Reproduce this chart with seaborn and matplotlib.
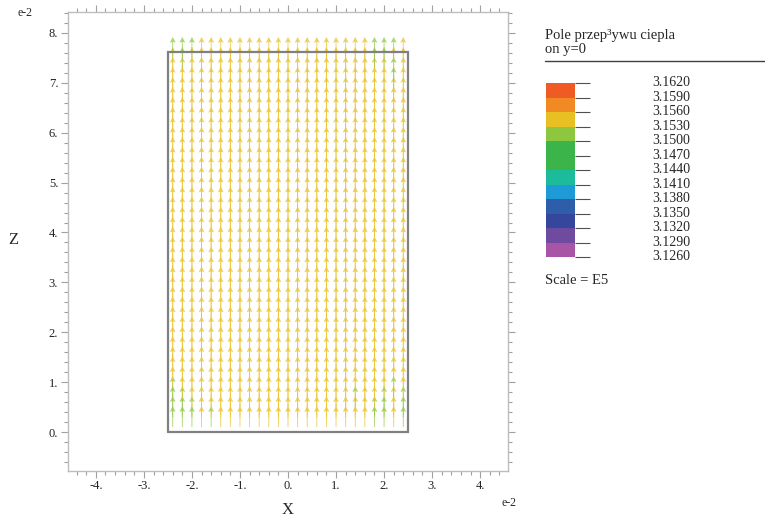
import numpy as np
import matplotlib
matplotlib.use("Agg")
import matplotlib.pyplot as plt
from matplotlib.colors import ListedColormap, BoundaryNorm
from matplotlib.ticker import MultipleLocator, FuncFormatter
import seaborn as sns

sns.set_theme(style="ticks")
plt.rcParams["font.family"] = ["Liberation Serif", "DejaVu Serif"]

# ---------------- data ----------------
title_lines = ["Pole przep\u00b3ywu ciepla", "on y=0"]
scale_text = "Scale = E5"
x_label = "X"
z_label = "Z"

# legend levels (x 1e5) and band colours (bottom -> top)
levels = [3.1260, 3.1290, 3.1320, 3.1350, 3.1380, 3.1410, 3.1440,
          3.1470, 3.1500, 3.1530, 3.1560, 3.1590, 3.1620]
band_colors = ["#A855A5", "#6E4B9E", "#35479C", "#2E5EA9", "#1E9AD7",
               "#1BBB9C", "#3BB54A", "#3BB54A", "#8DC63F", "#E9C023",
               "#F28A24", "#F05A24"]

# domain outline (x 1e-2)
domain_x = [-2.5, 2.5]
domain_z = [0.0, 7.62]

# arrow grid (x 1e-2)
x_cols = [-2.4, -2.2, -2.0, -1.8, -1.6, -1.4, -1.2, -1.0, -0.8, -0.6, -0.4,
          -0.2, 0.0, 0.2, 0.4, 0.6, 0.8, 1.0, 1.2, 1.4, 1.6, 1.8, 2.0, 2.2, 2.4]
z_rows = [0.1, 0.3, 0.5, 0.7, 0.9, 1.1, 1.3, 1.5, 1.7, 1.9, 2.1, 2.3, 2.5,
          2.7, 2.9, 3.1, 3.3, 3.5, 3.7, 3.9, 4.1, 4.3, 4.5, 4.7, 4.9, 5.1,
          5.3, 5.5, 5.7, 5.9, 6.1, 6.3, 6.5, 6.7, 6.9, 7.1, 7.3, 7.5]
arrow_len = 0.42

Y = 3.1545  # yellow band
G = 3.1515  # light green band
flux_bottom = [  # rows z=0.1 .. 0.7
    [G, G, G, Y, G, Y, Y, Y, Y, Y, Y, Y, Y, Y, Y, Y, Y, Y, Y, Y, Y, G, G, Y, G],
    [G, G, G, Y, Y, Y, Y, Y, Y, Y, Y, Y, Y, Y, Y, Y, Y, Y, Y, Y, Y, G, G, Y, G],
    [G, G, Y, Y, Y, Y, Y, Y, Y, Y, Y, Y, Y, Y, Y, Y, Y, Y, Y, G, Y, Y, G, Y, G],
    [G, Y, Y, Y, Y, Y, Y, Y, Y, Y, Y, Y, Y, Y, Y, Y, Y, Y, Y, Y, Y, Y, Y, G, Y],
]
flux_body = [Y, Y, Y, Y, Y, Y, Y, Y, Y, Y, Y, Y, Y, Y, Y, Y, Y, Y, Y, Y, Y, Y, Y, Y, Y]
flux_top = [  # rows z=6.9 .. 7.5
    [Y, Y, Y, Y, Y, Y, Y, Y, Y, Y, Y, Y, Y, Y, Y, Y, Y, Y, Y, Y, Y, Y, Y, G, Y],
    [Y, Y, Y, Y, Y, Y, Y, Y, Y, Y, Y, Y, Y, Y, Y, Y, Y, Y, Y, Y, Y, Y, Y, G, Y],
    [Y, G, Y, Y, Y, Y, Y, Y, Y, Y, Y, Y, Y, Y, Y, Y, Y, Y, Y, Y, Y, G, G, Y, Y],
    [G, G, G, Y, Y, Y, Y, Y, Y, Y, Y, Y, Y, Y, Y, Y, Y, Y, Y, Y, Y, G, G, G, Y],
]

n_body = len(z_rows) - len(flux_bottom) - len(flux_top)
flux = np.array(flux_bottom + [flux_body] * n_body + flux_top)

# ---------------- figure ----------------
W, H = 765, 519
fig = plt.figure(figsize=(W / 100, H / 100), dpi=100)
fig.patch.set_facecolor("white")

ax = fig.add_axes([68 / W, 1 - 470.7 / H, (508 - 68) / W, (470.7 - 12) / H])
ax.set_facecolor("white")

cmap = ListedColormap(band_colors)
norm = BoundaryNorm(levels, cmap.N)

XX, ZZ = np.meshgrid(x_cols, z_rows)
U = np.zeros_like(XX)
V = np.full_like(ZZ, arrow_len)
ax.quiver(XX, ZZ, U, V, flux, cmap=cmap, norm=norm, angles="xy",
          scale_units="xy", scale=1, units="dots", width=0.9,
          headwidth=6.5, headlength=6.5, headaxislength=5.5, alpha=0.72,
          zorder=2)

# domain outline
ax.plot([domain_x[0], domain_x[1], domain_x[1], domain_x[0], domain_x[0]],
        [domain_z[0], domain_z[0], domain_z[1], domain_z[1], domain_z[0]],
        color="#808080", lw=1.6, zorder=3, solid_joinstyle="miter")

ax.set_xlim(-4.58, 4.58)
ax.set_ylim(-0.775, 8.42)
ax.xaxis.set_major_locator(MultipleLocator(1))
ax.yaxis.set_major_locator(MultipleLocator(1))
ax.xaxis.set_minor_locator(MultipleLocator(0.2))
ax.yaxis.set_minor_locator(MultipleLocator(0.2))
fmt = FuncFormatter(lambda v, p: f"{int(round(v))}.")
ax.xaxis.set_major_formatter(fmt)
ax.yaxis.set_major_formatter(fmt)
ax.tick_params(which="both", direction="out", top=True, right=True,
               labeltop=False, labelright=False, color="#A0A0A0",
               labelsize=9, labelcolor="#222222", pad=2)
ax.tick_params(which="major", length=5, width=0.8)
ax.tick_params(which="minor", length=3, width=0.8)
for s in ax.spines.values():
    s.set_color("#BDBDBD")
    s.set_linewidth(1.0)
    s.set_visible(True)

fig.text(13 / W, 1 - 240 / H, z_label, fontsize=12, ha="center", va="center")
fig.text(288 / W, 1 - 510 / H, x_label, fontsize=12, ha="center", va="center")
fig.text(25 / W, 1 - 13 / H, "e-2", fontsize=8.5, ha="center", va="center")
fig.text(509 / W, 1 - 503 / H, "e-2", fontsize=8.5, ha="center", va="center")

# ---------------- legend ----------------
fig.text(545 / W, 1 - 35 / H, title_lines[0], fontsize=10.5, ha="left", va="center")
fig.text(545 / W, 1 - 50 / H, title_lines[1], fontsize=10.5, ha="left", va="center")
fig.add_artist(plt.Line2D([545 / W, 765 / W], [1 - 61 / H, 1 - 61 / H],
                          color="#404040", lw=1.0, transform=fig.transFigure))
fig.text(545 / W, 1 - 280 / H, scale_text, fontsize=10.5, ha="left", va="center")

lax = fig.add_axes([545.7 / W, 1 - 257 / H, (765 - 545.7) / W, (257 - 83) / H])
lax.set_xlim(0, 765 - 545.7)
lax.set_ylim(levels[0], levels[-1])
lax.axis("off")
box_w = 575 - 545.7
lax.bar([box_w / 2] * len(band_colors), np.diff(levels), bottom=levels[:-1],
        width=box_w, color=band_colors, edgecolor="none", align="center")
lax.hlines(levels, box_w, 590 - 545.7, color="#505050", lw=0.8, clip_on=False)
for lv in levels:
    lax.text(690 - 545.7, lv, f"{lv:.4f}", fontsize=10, ha="right",
             va="center", clip_on=False)

fig.savefig("out.png", dpi=100, facecolor="white")
